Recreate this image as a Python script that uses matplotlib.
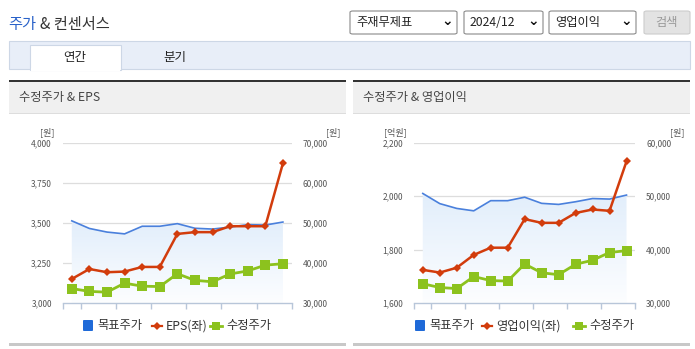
import numpy as np
import matplotlib
matplotlib.use("Agg")
import matplotlib.pyplot as plt
from matplotlib.patches import Rectangle, FancyBboxPatch
from matplotlib.lines import Line2D

plt.rcParams['font.family'] = ['Noto Sans CJK KR', 'DejaVu Sans']

# ---- data ----
months = ["23/08", "23/09", "23/10", "23/11", "23/12", "24/01", "24/02",
          "24/03", "24/04", "24/05", "24/06", "24/07", "24/08"]
target_price = [50500, 48600, 47700, 47250, 49150, 49150, 49800,
                48650, 48450, 48950, 49550, 49450, 50200]
adj_price = [33600, 32900, 32700, 34950, 34200, 34100, 37300,
             35650, 35300, 37250, 38000, 39450, 39800]
eps = [3150, 3212, 3192, 3196, 3225, 3225, 3431, 3442, 3442, 3479, 3479, 3479, 3871]
op_income = [1724, 1714, 1732, 1780, 1807, 1807, 1914, 1900, 1900, 1937, 1950, 1945, 2130]

W, H = 695, 349
fig = plt.figure(figsize=(W / 100, H / 100), dpi=100)
fig.patch.set_facecolor("white")


def fx(x):
    return x / W


def fy(y):
    return 1 - y / H


def rect(x0, y0, x1, y1, fc, ec="none", lw=0, z=0):
    fig.patches.append(Rectangle((fx(x0), fy(y1)), fx(x1) - fx(x0), fy(y0) - fy(y1),
                                 transform=fig.transFigure, facecolor=fc,
                                 edgecolor=ec, linewidth=lw, zorder=z))


def ftext(x, y, s, size=8, color="#333333", ha="left", va="center", **kw):
    fig.text(fx(x), fy(y), s, fontsize=size, color=color, ha=ha, va=va, **kw)


# ---- header ----
fig.text(fx(8), fy(24), "주가", fontsize=11, color="#2a62c9", ha="left", va="center")
ftext(40, 24, "& 컨센서스", size=11, color="#333333")

boxes = [(350, 457, "주재무제표"), (464, 543, "2024/12"), (549, 636, "영업이익")]
for x0, x1, label in boxes:
    fig.patches.append(FancyBboxPatch((fx(x0), fy(34)), fx(x1) - fx(x0), fy(11) - fy(34),
                                      boxstyle="round,pad=0,rounding_size=0.004",
                                      transform=fig.transFigure, facecolor="white",
                                      edgecolor="#8a8a8a", linewidth=0.8))
    ftext(x0 + 6, 22.5, label, size=8.8, color="#222222")
    ftext(x1 - 10, 21, "⌄", size=10, color="#111111", ha="center", va="center",
          family=['DejaVu Sans'], fontweight='bold')
fig.patches.append(FancyBboxPatch((fx(644), fy(34)), fx(690) - fx(644), fy(11) - fy(34),
                                  boxstyle="round,pad=0,rounding_size=0.004",
                                  transform=fig.transFigure, facecolor="#e3e3e3",
                                  edgecolor="#cccccc", linewidth=0.8))
ftext(667, 22.5, "검색", size=8.8, color="#999999", ha="center")

# tab bar
rect(9, 41, 690, 69, "#e8eef8", ec="#cdd7e6", lw=0.8)
rect(30, 45, 121, 70, "white", ec="#cdd7e6", lw=0.8, z=1)
rect(30.6, 68, 120.4, 70.5, "white", z=2)
ftext(75, 57, "연간", size=9, color="#222222", ha="center")
ftext(175, 57, "분기", size=9, color="#222222", ha="center")

# panels
for px0, px1, title in [(9, 346, "수정주가 & EPS"), (353, 690, "수정주가 & 영업이익")]:
    rect(px0, 80, px1, 82, "#333333")
    rect(px0, 82, px1, 113, "#f0f0f0")
    rect(px0, 113, px1, 114, "#dddddd")
    ftext(px0 + 10, 97.5, title, size=8.8, color="#444444")
    rect(px0, 343, px1, 346, "#c8c8c8")

x = np.arange(len(months))
TICK_FS = 6
TICK_C = "#555555"


def make_chart(left_px, right_px, left_vals, lmin, lmax, lstep, lunit, runit,
               rmin, rmax, rstep, unit_left_x, unit_right_x):
    top_px, bot_px = 142.7, 303
    ax = fig.add_axes([fx(left_px), fy(bot_px), fx(right_px) - fx(left_px),
                       fy(top_px) - fy(bot_px)])
    ax2 = ax.twinx()
    ax.set_zorder(ax2.get_zorder() + 1)
    ax.patch.set_visible(False)
    for a in (ax, ax2):
        a.set_xlim(-0.5, len(months) - 0.5)
        for s in a.spines.values():
            s.set_visible(False)
    ax.set_ylim(lmin, lmax)
    ax2.set_ylim(rmin, rmax)
    lt = np.arange(lmin, lmax + 1, lstep)
    rt = np.arange(rmin, rmax + 1, rstep)
    ax.set_yticks(lt)
    ax.set_yticklabels([f"{v:,}" for v in lt])
    ax2.set_yticks(rt)
    ax2.set_yticklabels([f"{v:,}" for v in rt])
    ax.tick_params(axis='y', length=0, labelsize=TICK_FS, labelcolor=TICK_C, pad=8)
    ax2.tick_params(axis='y', length=0, labelsize=TICK_FS, labelcolor=TICK_C, pad=8)
    for v in rt[1:]:
        ax2.axhline(v, color="#dddddd", lw=0.9, zorder=0)
    ax.spines['bottom'].set_visible(True)
    ax.spines['bottom'].set_color("#b8c6d9")
    ax.spines['bottom'].set_linewidth(1.0)
    ax.set_xticks(x[::2])
    ax.set_xticklabels(months[::2])
    ax.tick_params(axis='x', length=0, labelsize=TICK_FS, labelcolor=TICK_C, pad=2)
    ax.set_xticks([-0.5, 0.5, 2.5, 4.5, 6.5, 8.5, 10.5, 12.5], minor=True)
    ax.tick_params(axis='x', which='minor', length=4, color="#b8c6d9", width=1.0)
    ax2.set_xticks([])

    verts = ax2.fill_between(x, target_price, rmin, facecolor="none", edgecolor="none")
    grad = np.linspace(0, 1, 256).reshape(-1, 1)
    top_c = np.array([0.885, 0.933, 0.985])
    bot_c = np.array([0.99, 0.994, 1.0])
    img = top_c * (1 - grad[..., None]) + bot_c * grad[..., None]
    img = img.reshape(256, 1, 3)
    im = ax2.imshow(img, extent=[-0.5, len(months) - 0.5, rmin, max(target_price)],
                    aspect='auto', origin='upper', zorder=1)
    im.set_clip_path(verts.get_paths()[0], transform=ax2.transData)
    ax2.set_xlim(-0.5, len(months) - 0.5)
    ax2.set_ylim(rmin, rmax)
    ax2.plot(x, target_price, color="#4a80dc", lw=1.2, zorder=3)
    ax2.plot(x, adj_price, color="#8cc21e", lw=2.0, marker='s', ms=6.5,
             markeredgewidth=0, zorder=4)
    ax.plot(x, left_vals, color="#d23c0c", lw=1.8, marker='D', ms=4.5,
            markeredgewidth=0, zorder=5)

    ftext(unit_left_x, 132, lunit, size=6.5, color=TICK_C, ha="center")
    ftext(unit_right_x, 132, runit, size=6.5, color=TICK_C, ha="center")
    return ax


make_chart(63, 291.7, eps, 3000, 4000, 250, "[원]", "[원]", 30000, 70000, 10000, 47, 333)
make_chart(414.3, 635, op_income, 1600, 2200, 200, "[억원]", "[원]", 30000, 60000, 10000, 395, 677)


# ---- legends ----
def legend(items_x, red_label):
    bx, rx, gx = items_x
    fig.patches.append(FancyBboxPatch((fx(bx), fy(331)), fx(10), fy(320) - fy(331),
                                      boxstyle="round,pad=0,rounding_size=0.002",
                                      transform=fig.transFigure, facecolor="#1f6ad8",
                                      edgecolor="none"))
    ftext(bx + 14, 326, "목표주가", size=8.8, color="#333333")
    fig.lines.append(Line2D([fx(rx - 5), fx(rx + 5)], [fy(326), fy(326)],
                            transform=fig.transFigure, color="#d23c0c", lw=1.6))
    fig.lines.append(Line2D([fx(rx)], [fy(326)], transform=fig.transFigure,
                            color="#d23c0c", marker='D', ms=4, markeredgewidth=0))
    ftext(rx + 9, 326, red_label, size=8.8, color="#333333")
    fig.lines.append(Line2D([fx(gx - 6), fx(gx + 6)], [fy(326), fy(326)],
                            transform=fig.transFigure, color="#8cc21e", lw=2))
    fig.lines.append(Line2D([fx(gx)], [fy(326)], transform=fig.transFigure,
                            color="#8cc21e", marker='s', ms=6, markeredgewidth=0))
    ftext(gx + 10, 326, "수정주가", size=8.8, color="#333333")


legend((83, 157, 216), "EPS(좌)")
legend((415, 487, 579), "영업이익(좌)")

fig.savefig("out.png", dpi=100, facecolor="white")
